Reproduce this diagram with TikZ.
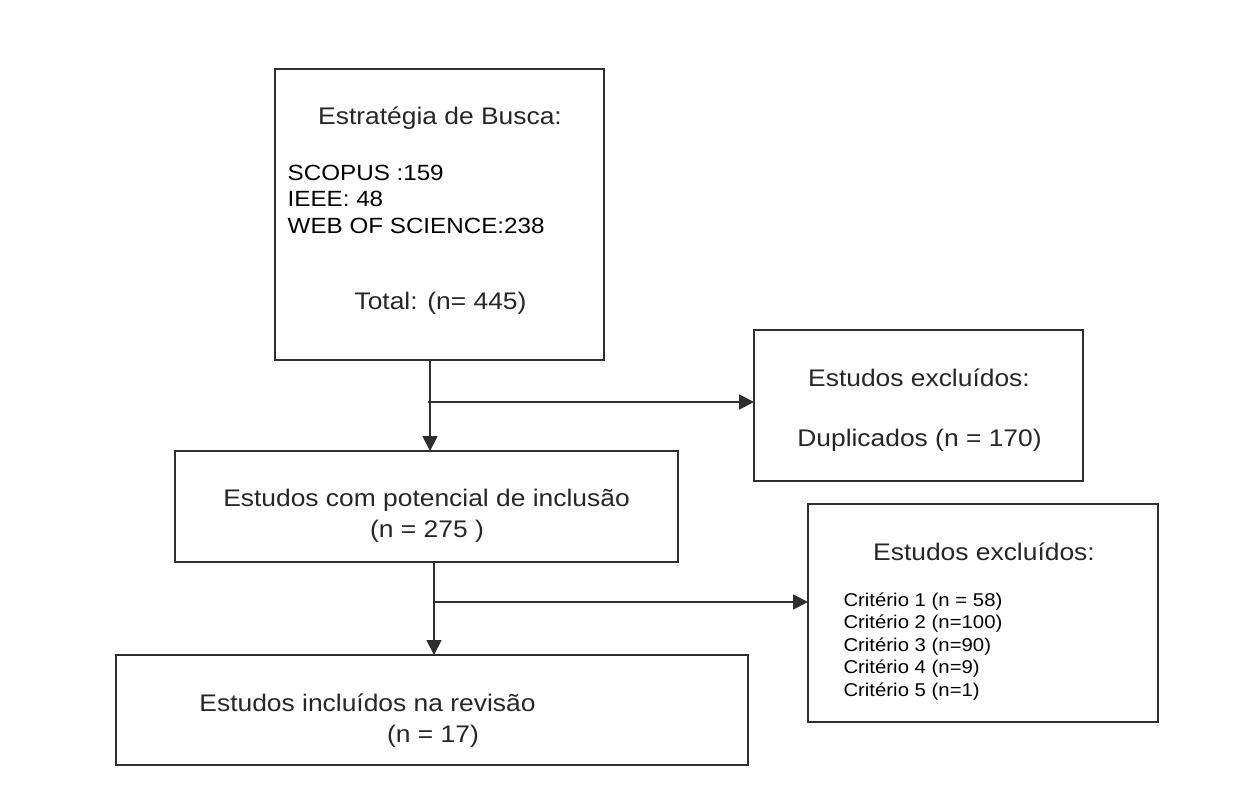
\documentclass[tikz,border=0pt]{standalone}
\usepackage{fontspec}
\setmainfont{Liberation Sans}[FakeStretch=1.1]
\usetikzlibrary{arrows.meta}
\definecolor{linec}{HTML}{2E2E2E}
\definecolor{txtc}{HTML}{262626}
\begin{document}
\begin{tikzpicture}[x=1pt,y=-1pt,
  box/.style={draw=linec, line width=1.8pt, rectangle, inner sep=0pt, outer sep=0pt},
  head/.style={anchor=base, inner sep=0pt, text=txtc, font=\fontsize{24}{28}\selectfont},
  listA/.style={anchor=base west, inner sep=0pt, text=black, font=\fontsize{22}{26}\selectfont},
  listB/.style={anchor=base west, inner sep=0pt, text=black, font=\fontsize{18.5}{22}\selectfont},
  arr/.style={draw=linec, line width=1.8pt, -{Triangle[length=15pt,width=15pt]}},
  ln/.style={draw=linec, line width=1.8pt}]
\useasboundingbox (0,0) rectangle (1250,800);
\fill[white] (0,0) rectangle (1250,800);

% boxes
\node[box, minimum width=329pt, minimum height=291pt] (b1) at (439.5,214.5) {};
\node[box, minimum width=329pt, minimum height=151pt] (b2) at (918.5,405.5) {};
\node[box, minimum width=503pt, minimum height=111pt] (b3) at (426.5,506.5) {};
\node[box, minimum width=350pt, minimum height=218pt] (b4) at (983,613) {};
\node[box, minimum width=632pt, minimum height=110pt] (b5) at (432,710) {};

% texts box 1
\node[head] (t1) at (440,124) {Estratégia de Busca:};
\node[listA] (l1) at (287.5,180) {SCOPUS :159};
\node[listA] (l2) at (287.5,206.5) {IEEE: 48};
\node[listA] (l3) at (287.5,233) {WEB OF SCIENCE:238};
\node[head] (t2) at (440.5,309) {Total: (n= 445)};

% texts box 2
\node[head] (t3) at (919,386.5) {Estudos excluídos:};
\node[head] (t4) at (919.5,446.5) {Duplicados (n = 170)};

% texts box 3
\node[head] (t5) at (426.5,506.5) {Estudos com potencial de inclusão};
\node[head] (t6) at (427,537) {(n = 275 )};

% texts box 4
\node[head] (t7) at (984,560) {Estudos excluídos:};
\node[listB] (c1) at (843.3,606) {Critério 1 (n = 58)};
\node[listB] (c2) at (843.3,628.5) {Critério 2 (n=100)};
\node[listB] (c3) at (843.3,651) {Critério 3 (n=90)};
\node[listB] (c4) at (843.3,673.5) {Critério 4 (n=9)};
\node[listB] (c5) at (843.3,696) {Critério 5 (n=1)};

% texts box 5
\node[head] (t8) at (367.5,711.5) {Estudos incluídos na revisão};
\node[head] (t9) at (433,742) {(n = 17)};

% connectors
\coordinate (j1) at (430,402);
\coordinate (j1s) at (428,402);
\draw[arr] (j1 |- b1.south) -- (j1 |- b3.north);
\draw[arr] (j1s) -- (j1s -| b2.west);

\coordinate (j2) at (434,602);
\coordinate (j2s) at (435,602);
\draw[arr] (j2 |- b3.south) -- (j2 |- b5.north);
\draw[arr] (j2s) -- (j2s -| b4.west);
\end{tikzpicture}
\end{document}
